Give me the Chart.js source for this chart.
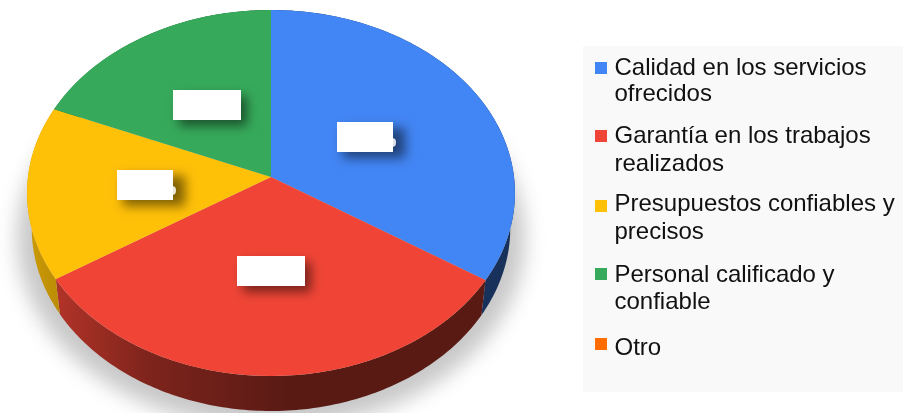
<!DOCTYPE html>
<html lang="es">
<head>
<meta charset="utf-8">
<title>Factores de confianza</title>
<script src="https://cdn.jsdelivr.net/npm/chart.js@4"></script>
<style>
  html, body { margin: 0; padding: 0; background: #ffffff; }
  canvas { display: block; }
</style>
</head>
<body>
<canvas id="pie" width="903" height="413"></canvas>
<script>
// Shares per answer, in percent
const categories = [
  'Calidad en los servicios ofrecidos',
  'Garantía en los trabajos realizados',
  'Presupuestos confiables y precisos',
  'Personal calificado y confiable',
  'Otro'
];
const shares = [34.1, 31.9, 15.3, 18.7, 0];
const sliceColors = ['#4285F4', '#F04536', '#FFC008', '#36A95A', '#FF6D01'];

// Legend wording, broken the way it wraps in the side panel
const legendLines = [
  ['Calidad en los servicios', 'ofrecidos'],
  ['Garantía en los trabajos', 'realizados'],
  ['Presupuestos confiables y', 'precisos'],
  ['Personal calificado y', 'confiable'],
  ['Otro']
];
const legendBaselines = [[75, 101], [143, 171], [211, 239], [282, 309], [355]];
const legendSwatchTops = [62, 130, 200, 268, 338];

// Masked value labels: x, y, width, height, and whether a glyph edge shows past the mask
const labelMasks = [
  [337, 122, 56, 30, true],
  [237, 256, 68, 30, false],
  [117, 170, 56, 30, true],
  [173, 90, 68, 30, false]
];

// Perspective of the tilted disc: centre of the slices, axis lengths and foreshortening
const disc = { cx: 271, cy: 177, a: 243, b: 181.6, k: -0.0874, depth: 35, baseScale: 0.981 };

// Side wall brightness from left to right
const wallShade = [[30, 0.8], [150, 0.52], [290, 0.37], [515, 0.37]];

function project(angle, depth, scale) {
  const u = Math.cos(angle), v = Math.sin(angle), w = 1 + disc.k * v;
  return [disc.cx + disc.a * scale * u / w, disc.cy + disc.b * v / w + depth];
}

function shaded(hex, f) {
  const n = parseInt(hex.slice(1), 16);
  const c = [(n >> 16) & 255, (n >> 8) & 255, n & 255].map(x => Math.round(x * f));
  return `rgb(${c[0]},${c[1]},${c[2]})`;
}

function drawGroundShadow(ctx) {
  ctx.save();
  ctx.filter = 'blur(10px)';
  ctx.fillStyle = '#c8c8c8';
  ctx.beginPath();
  ctx.ellipse(271, 238, 254, 190, 0, 0, Math.PI * 2);
  ctx.fill();
  ctx.restore();
}

function drawWalls(ctx, arcs) {
  arcs.forEach((arc, i) => {
    if (arc.endAngle - arc.startAngle <= 0) return;
    const steps = 120, top = [], base = [];
    for (let s = 0; s <= steps; s++) {
      const t = arc.startAngle + (arc.endAngle - arc.startAngle) * s / steps;
      top.push(project(t, 0, 1));
      base.push(project(t, disc.depth, disc.baseScale));
    }
    const g = ctx.createLinearGradient(wallShade[0][0], 0, wallShade[wallShade.length - 1][0], 0);
    const span = wallShade[wallShade.length - 1][0] - wallShade[0][0];
    wallShade.forEach(([x, f]) => g.addColorStop((x - wallShade[0][0]) / span, shaded(sliceColors[i], f)));
    ctx.fillStyle = g;
    ctx.beginPath();
    top.forEach((p, n) => n ? ctx.lineTo(p[0], p[1]) : ctx.moveTo(p[0], p[1]));
    base.reverse().forEach(p => ctx.lineTo(p[0], p[1]));
    ctx.closePath();
    ctx.fill();
  });
}

// The top face is drawn row by row, each row with the scale the tilt gives it
function drawTopFace(ctx, arcs) {
  const first = arcs[0], R = first.outerRadius;
  for (let row = 4; row < 384; row++) {
    const Y = row + 0.5 - disc.cy;
    const v = Y / (disc.b - disc.k * Y);
    if (Math.abs(v) > 1.02) continue;
    const w = 1 + disc.k * v;
    const sx = disc.a / (w * R), sy = disc.b / (w * w * R);
    ctx.save();
    ctx.beginPath();
    ctx.rect(0, row, 903, 1);
    ctx.clip();
    ctx.transform(sx, 0, 0, sy, disc.cx - first.x * sx, row + 0.5 - (first.y + v * R) * sy);
    arcs.forEach(arc => {
      if (arc.endAngle - arc.startAngle <= 0) return;
      ctx.save();
      arc.draw(ctx);
      ctx.restore();
    });
    ctx.restore();
  }
}

function drawLabelMasks(ctx) {
  const away = 2000;
  labelMasks.forEach(([x, y, w, h, edge]) => {
    // Soft shadow first, cast from a label slightly wider when a glyph runs past the mask
    ctx.save();
    ctx.shadowColor = 'rgba(0,0,0,0.5)';
    ctx.shadowBlur = 11;
    ctx.shadowOffsetX = away + 6;
    ctx.shadowOffsetY = 6;
    ctx.fillStyle = '#000000';
    ctx.fillRect(x - away, y, edge ? w + 6 : w, h);
    ctx.restore();

    ctx.save();
    ctx.fillStyle = '#ffffff';
    ctx.fillRect(x, y, w, h);
    if (edge) {
      ctx.fillStyle = 'rgba(255,255,255,0.85)';
      ctx.beginPath();
      ctx.ellipse(x + w, y + 20.5, 3, 4.2, 0, 0, Math.PI * 2);
      ctx.fill();
    }
    ctx.restore();
  });
}

function drawLegend(ctx) {
  ctx.save();
  ctx.fillStyle = '#f9f9f9';
  ctx.fillRect(583, 46, 320, 346);
  ctx.font = '24px "Liberation Sans", Arial, sans-serif';
  ctx.textBaseline = 'alphabetic';
  ctx.textAlign = 'left';
  legendLines.forEach((lines, i) => {
    ctx.fillStyle = sliceColors[i];
    ctx.fillRect(595, legendSwatchTops[i], 12, 12);
    ctx.fillStyle = '#111111';
    lines.forEach((line, n) => ctx.fillText(line, 614.5, legendBaselines[i][n]));
  });
  ctx.restore();
}

const tiltedDisc = {
  id: 'tiltedDisc',
  beforeDatasetsDraw(chart) {
    const ctx = chart.ctx;
    const arcs = chart.getDatasetMeta(0).data;
    drawGroundShadow(ctx);
    drawWalls(ctx, arcs);
    drawTopFace(ctx, arcs);
    drawLabelMasks(ctx);
    drawLegend(ctx);
    return false;
  }
};

new Chart(document.getElementById('pie'), {
  type: 'pie',
  data: {
    labels: categories,
    datasets: [{ data: shares, backgroundColor: sliceColors, borderWidth: 0 }]
  },
  options: {
    responsive: false,
    animation: false,
    events: [],
    plugins: { legend: { display: false }, tooltip: { enabled: false } }
  },
  plugins: [tiltedDisc]
});
</script>
</body>
</html>
